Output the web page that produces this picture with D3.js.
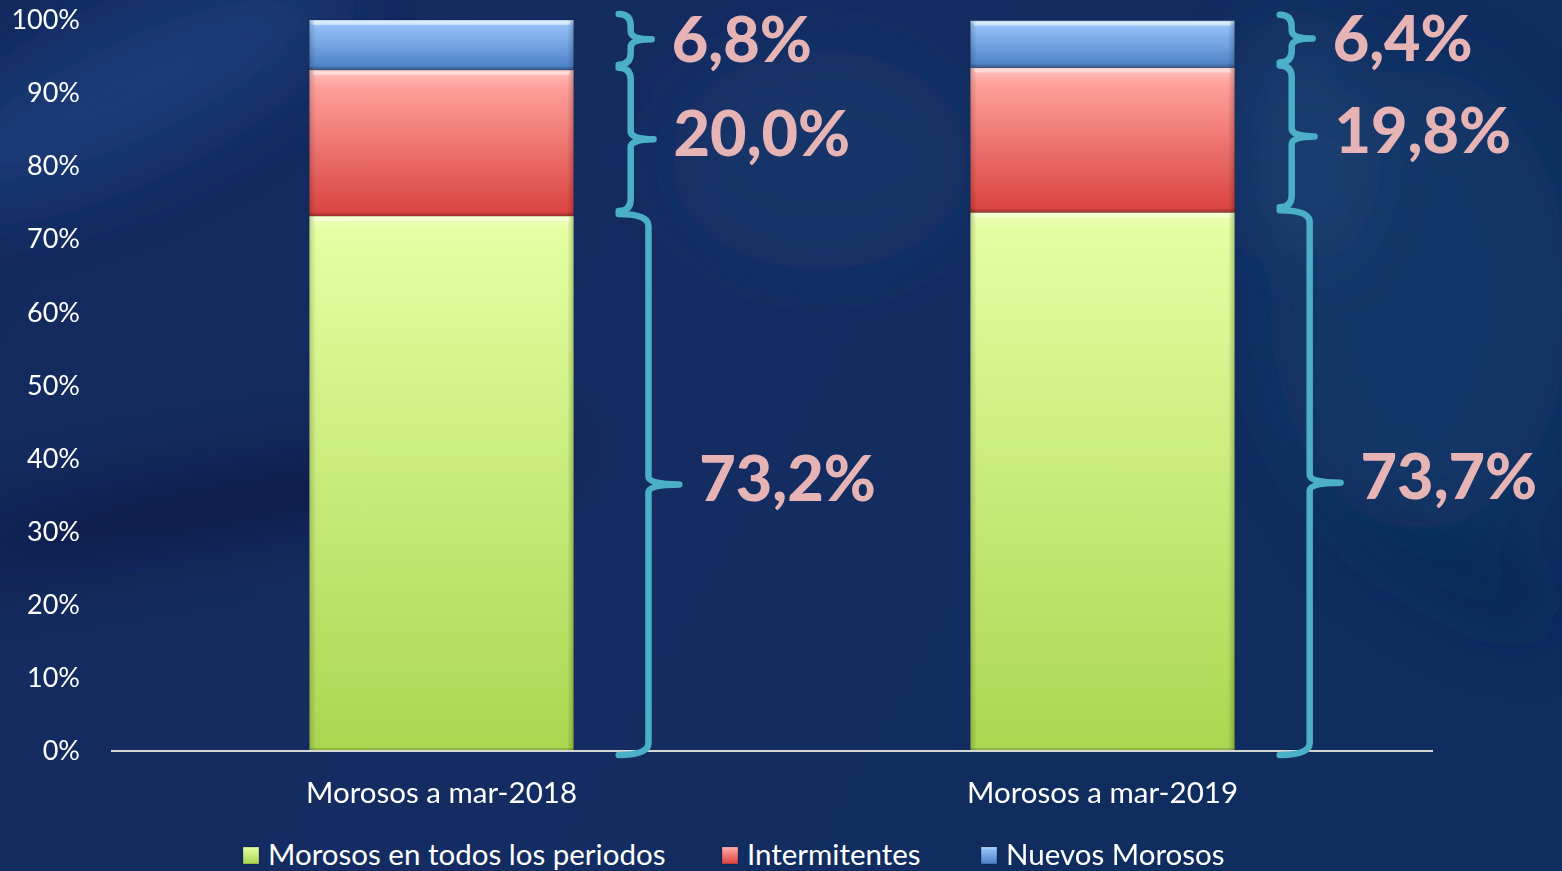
<!DOCTYPE html>
<html>
<head>
<meta charset="utf-8">
<script src="https://cdn.jsdelivr.net/npm/d3@7"></script>
<style>
  body { margin: 0; background: #13275a; overflow: hidden; }
  svg { display: block; }
  text { font-family: Lato, "Open Sans", sans-serif; }
</style>
</head>
<body>
<svg width="1562" height="871"></svg>
<script>
// data
const categories = ["Morosos a mar-2018", "Morosos a mar-2019"];
const seriesNames = ["Morosos en todos los periodos", "Intermitentes", "Nuevos Morosos"];
const morosos = [73.2, 73.7];
const intermitentes = [20.0, 19.8];
const nuevos = [6.8, 6.4];
const yTicks = [0, 10, 20, 30, 40, 50, 60, 70, 80, 90, 100];

const svg = d3.select("svg");
const width = +svg.attr("width");
const height = +svg.attr("height");

const defs = svg.append("defs");

// background: dark blue with some blurred "photo" shapes
const bg = defs.append("linearGradient").attr("id", "bg")
  .attr("x1", 0).attr("y1", 0).attr("x2", 1).attr("y2", 0.3);
bg.append("stop").attr("offset", "0%").attr("stop-color", "#132a5e");
bg.append("stop").attr("offset", "45%").attr("stop-color", "#152c62");
bg.append("stop").attr("offset", "100%").attr("stop-color", "#0f2d5f");

defs.append("filter").attr("id", "blur").attr("x", "-50%").attr("y", "-50%")
  .attr("width", "200%").attr("height", "200%")
  .append("feGaussianBlur").attr("stdDeviation", 35);

svg.append("rect").attr("width", width).attr("height", height).attr("fill", "url(#bg)");

const blobs = svg.append("g").attr("filter", "url(#blur)");
blobs.append("ellipse").attr("cx", 130).attr("cy", 90).attr("rx", 230).attr("ry", 70)
  .attr("transform", "rotate(-25 130 90)").attr("fill", "#21478a").attr("opacity", 0.55);
blobs.append("ellipse").attr("cx", 250).attr("cy", 500).attr("rx", 330).attr("ry", 22)
  .attr("transform", "rotate(-10 250 500)").attr("fill", "#060d28").attr("opacity", 0.6);
blobs.append("ellipse").attr("cx", 820).attr("cy", 160).attr("rx", 150).attr("ry", 110)
  .attr("fill", "#23457a").attr("opacity", 0.3);
blobs.append("ellipse").attr("cx", 1420).attr("cy", 300).attr("rx", 150).attr("ry", 230)
  .attr("fill", "#1c4375").attr("opacity", 0.4);
blobs.append("ellipse").attr("cx", 1300).attr("cy", 140).attr("rx", 60).attr("ry", 120)
  .attr("fill", "#2a5585").attr("opacity", 0.4);
blobs.append("ellipse").attr("cx", 1450).attr("cy", 560).attr("rx", 120).attr("ry", 30)
  .attr("transform", "rotate(30 1450 560)").attr("fill", "#0a2553").attr("opacity", 0.6);

// scales
const x = d3.scaleBand().domain(categories).range([111, 1433])
  .paddingInner(0.6).paddingOuter(0.3);
const y = d3.scaleLinear().domain([0, 100]).range([751, 20]);

const rows = categories.map((c, i) => ({
  cat: c,
  [seriesNames[0]]: morosos[i],
  [seriesNames[1]]: intermitentes[i],
  [seriesNames[2]]: nuevos[i]
}));
const stacked = d3.stack().keys(seriesNames)(rows);

const colors = {
  [seriesNames[0]]: ["#f0ffbc", "#e3ffa2", "#aad650"],
  [seriesNames[1]]: ["#ffc4c0", "#ff9f9a", "#d9423f"],
  [seriesNames[2]]: ["#d2ecff", "#93bff7", "#4a7fc6"]
};
seriesNames.forEach((s, i) => {
  const g = defs.append("linearGradient").attr("id", "g" + i)
    .attr("x1", 0).attr("y1", 0).attr("x2", 0).attr("y2", 1);
  g.append("stop").attr("offset", "0%").attr("stop-color", colors[s][0]);
  g.append("stop").attr("offset", i === 0 ? "3%" : "12%").attr("stop-color", colors[s][1]);
  g.append("stop").attr("offset", "100%").attr("stop-color", colors[s][2]);
});
// side shading for the bevel look
const side = defs.append("linearGradient").attr("id", "side")
  .attr("x1", 0).attr("y1", 0).attr("x2", 1).attr("y2", 0);
side.append("stop").attr("offset", "0%").attr("stop-color", "#000").attr("stop-opacity", 0.18);
side.append("stop").attr("offset", "2.5%").attr("stop-color", "#000").attr("stop-opacity", 0);
side.append("stop").attr("offset", "97.5%").attr("stop-color", "#000").attr("stop-opacity", 0);
side.append("stop").attr("offset", "100%").attr("stop-color", "#000").attr("stop-opacity", 0.22);

// y axis labels
const yAxis = svg.append("g").attr("transform", "translate(80,0)")
  .call(d3.axisLeft(y).tickValues(yTicks).tickSize(0).tickPadding(0)
    .tickFormat(d => d + "%"));
yAxis.select(".domain").remove();
yAxis.selectAll("text").attr("fill", "#ffffff").attr("font-size", 27)
  .style("font-family", "Lato, sans-serif");

// bars
const layers = svg.append("g").selectAll("g").data(stacked).join("g");
layers.each(function(layer, li) {
  const g = d3.select(this);
  layer.forEach(d => {
    const x0 = x(d.data.cat), w = x.bandwidth();
    const yTop = y(d[1]), h = y(d[0]) - y(d[1]);
    g.append("rect").attr("x", x0).attr("y", yTop).attr("width", w).attr("height", h)
      .attr("fill", `url(#g${li})`);
    g.append("rect").attr("x", x0).attr("y", yTop).attr("width", w).attr("height", h)
      .attr("fill", "url(#side)");
    g.append("rect").attr("x", x0 + 4).attr("y", yTop + 1).attr("width", w - 8).attr("height", 4)
      .attr("fill", "#fff").attr("opacity", 0.45);
    g.append("rect").attr("x", x0).attr("y", y(d[0]) - 3).attr("width", w).attr("height", 3)
      .attr("fill", "#000").attr("opacity", 0.15);
    g.append("rect").attr("x", x0).attr("y", yTop).attr("width", w).attr("height", h)
      .attr("fill", "none").attr("stroke", "#000").attr("stroke-opacity", 0.2).attr("stroke-width", 1);
  });
});

// x axis line + category labels
svg.append("line").attr("x1", 111).attr("x2", 1433).attr("y1", y(0)).attr("y2", y(0))
  .attr("stroke", "#d6d6d6").attr("stroke-width", 2);
const xAxis = svg.append("g").attr("transform", `translate(0,${y(0)})`)
  .call(d3.axisBottom(x).tickSize(0).tickPadding(31));
xAxis.select(".domain").remove();
xAxis.selectAll("text").attr("fill", "#ffffff").attr("font-size", 29.5)
  .style("font-family", "Lato, sans-serif");

// braces and value labels
const fmt = d3.formatLocale({ decimal: ",", thousands: ".", grouping: [3], currency: ["", "€"] }).format(".1f");

function brace(xl, y0, y1, depth, tip) {
  const xv = xl + depth;
  const ym = (y0 + y1) / 2;
  const r = Math.min(depth, 12);
  return `M${xl},${y0} Q${xv},${y0} ${xv},${y0 + r} V${ym - 8} Q${xv},${ym} ${xv + tip},${ym}` +
    ` M${xv + tip},${ym} Q${xv},${ym} ${xv},${ym + 8} V${y1 - r} Q${xv},${y1} ${xl},${y1}`;
}

const braces = svg.append("g");
stacked.forEach(layer => {
  layer.forEach(d => {
    const y0 = y(d[1]) - (layer.index === 2 ? 6 : 2);
    const y1 = y(d[0]) + (layer.index === 0 ? 4 : -5);
    const h = y1 - y0;
    const depth = Math.max(12, Math.min(30, h * 0.055));
    const tip = 20 + h * 0.02;
    const xl = x(d.data.cat) + x.bandwidth() + 45;
    braces.append("path").attr("d", brace(xl, y0, y1, depth, tip))
      .attr("fill", "none").attr("stroke", "#4bafc9").attr("stroke-width", 6.5)
      .attr("stroke-linecap", "round");
    braces.append("text").attr("x", xl + depth + tip + 20)
      .attr("y", (y0 + y1) / 2 - (layer.index === 2 ? 0 : 6))
      .attr("dy", "0.36em").attr("fill", "#e6b4b5").attr("font-size", 63)
      .attr("font-weight", 900)
      .text(fmt(d.data[layer.key]) + "%");
  });
});

// legend
const legendX = [243, 722, 981];
const legend = svg.append("g");
seriesNames.forEach((s, i) => {
  const g = legend.append("g").attr("transform", `translate(${legendX[i]},847)`);
  g.append("rect").attr("width", 16).attr("height", 17).attr("fill", `url(#g${i})`)
    .attr("stroke", "#000").attr("stroke-opacity", 0.25);
  g.append("text").attr("x", 25).attr("y", 18).attr("fill", "#fff").attr("font-size", 29.5).text(s);
});
</script>
</body>
</html>
